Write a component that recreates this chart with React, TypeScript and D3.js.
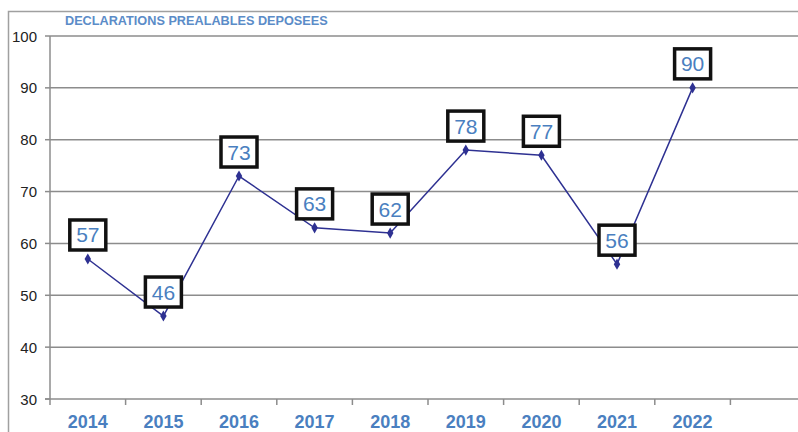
import React, { useEffect, useRef } from "react";
import * as d3 from "d3";

const years = ["2014", "2015", "2016", "2017", "2018", "2019", "2020", "2021", "2022"];
const slots = [...years, ""]; // one empty slot on the right
const values = [57, 46, 73, 63, 62, 78, 77, 56, 90];
const yTicks = [30, 40, 50, 60, 70, 80, 90, 100];
const title = "DECLARATIONS PREALABLES DEPOSEES";

export default function App() {
  const ref = useRef<SVGSVGElement>(null);

  useEffect(() => {
    const svg = d3.select(ref.current);
    svg.selectAll("*").remove();

    const W = 798;
    const H = 432;
    const left = 50;
    const right = 806;
    const top = 36;
    const bottom = 399;

    const x = d3.scaleBand().domain(slots).range([left, right]);
    const y = d3.scaleLinear().domain([30, 100]).range([bottom, top]);

    svg.append("rect").attr("width", W).attr("height", H).attr("fill", "#fff");

    // outer frame
    svg
      .append("path")
      .attr("d", `M8.5,${H} V11.5 H${W}`)
      .attr("fill", "none")
      .attr("stroke", "#a0a0a0")
      .attr("stroke-width", 1.5);

    svg
      .append("text")
      .attr("x", 65)
      .attr("y", 25)
      .text(title)
      .style("font-family", "Liberation Sans, Arial, sans-serif")
      .style("font-size", "12.7px")
      .style("font-weight", "bold")
      .attr("fill", "#5b8cc8");

    // gridlines
    svg
      .append("g")
      .selectAll("line")
      .data(yTicks.filter((t) => t > 30))
      .enter()
      .append("line")
      .attr("x1", left)
      .attr("x2", W)
      .attr("y1", (d) => y(d))
      .attr("y2", (d) => y(d))
      .attr("stroke", "#8c8c8c")
      .attr("stroke-width", 1.5);

    // axes
    const axis = svg.append("g");
    axis
      .append("line")
      .attr("x1", left)
      .attr("x2", left)
      .attr("y1", top)
      .attr("y2", bottom)
      .attr("stroke", "#8c8c8c")
      .attr("stroke-width", 1.5);
    axis
      .append("line")
      .attr("x1", left - 5)
      .attr("x2", W)
      .attr("y1", bottom)
      .attr("y2", bottom)
      .attr("stroke", "#8c8c8c")
      .attr("stroke-width", 1.5);

    axis
      .selectAll(".ytick")
      .data(yTicks)
      .enter()
      .append("line")
      .attr("x1", left - 5)
      .attr("x2", left)
      .attr("y1", (d) => y(d))
      .attr("y2", (d) => y(d))
      .attr("stroke", "#8c8c8c")
      .attr("stroke-width", 1.5);

    axis
      .selectAll(".ylab")
      .data(yTicks)
      .enter()
      .append("text")
      .attr("x", 37)
      .attr("y", (d) => y(d) + 5.5)
      .attr("text-anchor", "end")
      .text((d) => d)
      .style("font-family", "Liberation Sans, Arial, sans-serif")
      .style("font-size", "15px")
      .attr("fill", "#222");

    axis
      .selectAll(".xtick")
      .data(slots)
      .enter()
      .append("line")
      .attr("x1", (d) => x(d)!)
      .attr("x2", (d) => x(d)!)
      .attr("y1", bottom)
      .attr("y2", bottom + 6)
      .attr("stroke", "#8c8c8c")
      .attr("stroke-width", 1.5);

    axis
      .selectAll(".xlab")
      .data(years)
      .enter()
      .append("text")
      .attr("x", (d) => x(d)! + x.bandwidth() / 2)
      .attr("y", 428)
      .attr("text-anchor", "middle")
      .text((d) => d)
      .style("font-family", "Liberation Sans, Arial, sans-serif")
      .style("font-size", "18px")
      .style("font-weight", "bold")
      .attr("fill", "#4a7fc0");

    const pts = years.map((yr, i) => ({
      cx: x(yr)! + x.bandwidth() / 2,
      cy: y(values[i]),
      v: values[i],
    }));

    const line = d3
      .line<{ cx: number; cy: number }>()
      .x((d) => d.cx)
      .y((d) => d.cy);

    svg
      .append("path")
      .datum(pts)
      .attr("d", line)
      .attr("fill", "none")
      .attr("stroke", "#2e3192")
      .attr("stroke-width", 1.5);

    svg
      .append("g")
      .selectAll("path")
      .data(pts)
      .enter()
      .append("path")
      .attr("d", d3.symbol(d3.symbolDiamond, 36)())
      .attr("transform", (d) => `translate(${d.cx},${d.cy})`)
      .attr("fill", "#2e3192");

    const labels = svg
      .append("g")
      .selectAll("g")
      .data(pts)
      .enter()
      .append("g")
      .attr("transform", (d) => `translate(${d.cx},${d.cy - 24})`);

    labels
      .append("rect")
      .attr("x", -18)
      .attr("y", -15)
      .attr("width", 36)
      .attr("height", 30)
      .attr("fill", "#fff")
      .attr("stroke", "#111")
      .attr("stroke-width", 3.5);

    labels
      .append("text")
      .attr("y", 7.5)
      .attr("text-anchor", "middle")
      .text((d) => d.v)
      .style("font-family", "Liberation Sans, Arial, sans-serif")
      .style("font-size", "21px")
      .attr("fill", "#4a7fc0");
  }, []);

  return (
    <svg
      ref={ref}
      width={798}
      height={432}
      style={{ position: "absolute", left: 0, top: 0, display: "block" }}
    />
  );
}
